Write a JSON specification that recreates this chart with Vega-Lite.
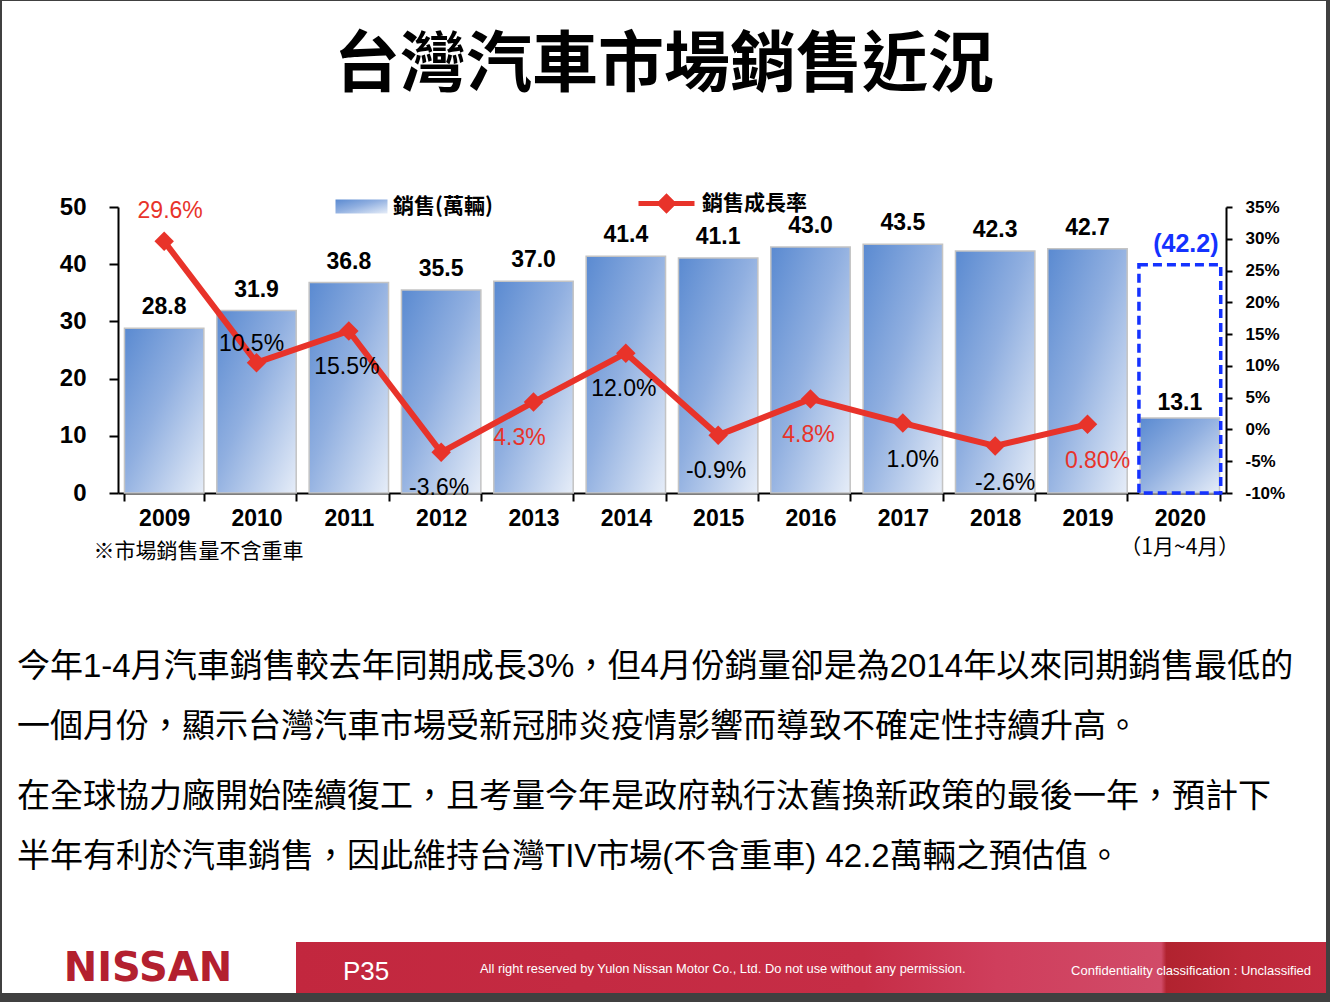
{
  "$schema": "https://vega.github.io/schema/vega-lite/v6.json",
  "width": 1324,
  "height": 992,
  "autosize": {"type": "none"},
  "padding": {"left": 2, "top": 1, "right": 4, "bottom": 9},
  "background": "#404040",
  "title": {
    "text": "台灣汽車市場銷售近況",
    "font": "Noto Sans CJK TC",
    "fontSize": 66,
    "fontWeight": "bold",
    "color": "black",
    "anchor": "middle",
    "frame": "group",
    "baseline": "middle",
    "offset": -131
  },
  "config": {
    "view": {"fill": "white", "stroke": null},
    "font": "Liberation Sans",
    "axis": {"grid": false, "domainColor": "black", "tickColor": "black", "labelColor": "black", "domainWidth": 2, "tickWidth": 2}
  },
  "datasets": {
    "sales": [
      {"year": "2009", "sales": 28.8, "growth": 29.6, "growthText": "29.6%"},
      {"year": "2010", "sales": 31.9, "growth": 10.5, "growthText": "10.5%"},
      {"year": "2011", "sales": 36.8, "growth": 15.5, "growthText": "15.5%"},
      {"year": "2012", "sales": 35.5, "growth": -3.6, "growthText": "-3.6%"},
      {"year": "2013", "sales": 37.0, "growth": 4.3, "growthText": "4.3%"},
      {"year": "2014", "sales": 41.4, "growth": 12.0, "growthText": "12.0%"},
      {"year": "2015", "sales": 41.1, "growth": -0.9, "growthText": "-0.9%"},
      {"year": "2016", "sales": 43.0, "growth": 4.8, "growthText": "4.8%"},
      {"year": "2017", "sales": 43.5, "growth": 1.0, "growthText": "1.0%"},
      {"year": "2018", "sales": 42.3, "growth": -2.6, "growthText": "-2.6%"},
      {"year": "2019", "sales": 42.7, "growth": 0.8, "growthText": "0.80%"},
      {"year": "2020", "sales": 13.1, "growth": null, "growthText": null, "outline": 39.9, "forecastText": "(42.2)", "period": "（1月~4月）"}
    ],
    "notes": [
      {"para": 1, "line": 1, "text": "今年1-4月汽車銷售較去年同期成長3%，但4月份銷量卻是為2014年以來同期銷售最低的"},
      {"para": 1, "line": 2, "text": "一個月份，顯示台灣汽車市場受新冠肺炎疫情影響而導致不確定性持續升高。"},
      {"para": 2, "line": 1, "text": "在全球協力廠開始陸續復工，且考量今年是政府執行汰舊換新政策的最後一年，預計下"},
      {"para": 2, "line": 2, "text": "半年有利於汽車銷售，因此維持台灣TIV市場(不含重車) 42.2萬輛之預估值。"}
    ],
    "footer": [
      {"item": "logo", "text": "NISSAN"},
      {"item": "page", "text": "P35"},
      {"item": "rights", "text": "All right reserved by Yulon Nissan Motor Co., Ltd. Do not use without any permission."},
      {"item": "class", "text": "Confidentiality classification :  Unclassified"}
    ]
  },
  "layer": [
    {
      "data": {"name": "sales"},
      "layer": [
        {
          "layer": [
            {
              "mark": {"type": "bar", "stroke": "#c4c4c4", "strokeWidth": 1.5,
                "fill": {"gradient": "linear", "x1": 0, "y1": 0, "x2": 1, "y2": 1, "stops": [{"offset": 0, "color": "#5a8ad1"}, {"offset": 0.45, "color": "#90afe0"}, {"offset": 1, "color": "#e6edf8"}]}},
              "encoding": {
                "x": {
                  "field": "year", "type": "nominal",
                  "scale": {"range": [116, 1224], "paddingInner": 0.14, "paddingOuter": 0.07},
                  "axis": {
                    "orient": "bottom", "offset": -500, "tickBand": "extent", "tickSize": 8,
                    "labelPadding": 6, "labelFontSize": 23, "labelFontWeight": "bold", "labelAngle": 0,
                    "labelBaseline": "top",
                    "title": "※市場銷售量不含重車", "titleFont": "Noto Sans CJK TC", "titleFontSize": 21,
                    "titleFontWeight": "normal", "titleColor": "black", "titleAlign": "left", "titleAnchor": "start",
                    "titleX": 91, "titleY": 58, "titleBaseline": "middle"
                  }
                },
                "y": {
                  "field": "sales", "type": "quantitative",
                  "scale": {"domain": [0, 50], "range": [492, 206]},
                  "axis": {
                    "orient": "left", "offset": -116, "values": [0, 10, 20, 30, 40, 50], "tickSize": 9,
                    "labelPadding": 23, "labelFontSize": 24, "labelFontWeight": "bold", "title": null
                  }
                },
                "opacity": {
                  "datum": "銷售(萬輛)", "type": "ordinal",
                  "scale": {"range": [1]},
                  "legend": {
                    "orient": "none", "legendX": 333, "legendY": 179, "title": null, "padding": 0,
                    "symbolType": "M-1,-0.27H1V0.27H-1Z", "symbolSize": 2704,
                    "symbolStrokeColor": "#b5b5b5", "symbolStrokeWidth": 1,
                    "labelFont": "Noto Sans CJK TC", "labelFontSize": 21, "labelFontWeight": "bold",
                    "labelColor": "black", "labelOffset": 5,
                    "encode": {"symbols": {"update": {"fill": {"value": {"gradient": "linear", "x1": 0, "y1": 0, "x2": 1, "y2": 1, "stops": [{"offset": 0, "color": "#5a8ad1"}, {"offset": 0.45, "color": "#90afe0"}, {"offset": 1, "color": "#e6edf8"}]}}, "opacity": {"value": 1}}}}
                  }
                }
              }
            },
            {
              "transform": [{"filter": "datum.year != '2020'"}],
              "mark": {"type": "text", "baseline": "middle", "dy": -21, "fontSize": 23, "fontWeight": "bold", "color": "black"},
              "encoding": {
                "x": {"field": "year", "type": "nominal"},
                "y": {"field": "sales", "type": "quantitative", "title": null},
                "text": {"field": "sales", "type": "quantitative", "format": ".1f"}
              }
            },
            {
              "transform": [{"filter": "datum.year == '2020'"}],
              "mark": {"type": "text", "baseline": "middle", "dy": -15, "fontSize": 23, "fontWeight": "bold", "color": "black"},
              "encoding": {
                "x": {"field": "year", "type": "nominal"},
                "y": {"field": "sales", "type": "quantitative", "title": null},
                "text": {"field": "sales", "type": "quantitative", "format": ".1f"}
              }
            },
            {
              "transform": [{"filter": "isValid(datum.outline)"}],
              "mark": {"type": "bar", "filled": false, "color": "#1432ff", "stroke": "#1432ff", "strokeWidth": 3.5, "strokeDash": [9, 5], "width": {"band": 1.03}},
              "encoding": {
                "x": {"field": "year", "type": "nominal"},
                "y": {"field": "outline", "type": "quantitative", "title": null}
              }
            },
            {
              "transform": [{"filter": "isValid(datum.outline)"}],
              "mark": {"type": "text", "baseline": "middle", "dy": -21, "dx": 6, "fontSize": 25, "fontWeight": "bold", "color": "#1432ff"},
              "encoding": {
                "x": {"field": "year", "type": "nominal"},
                "y": {"field": "outline", "type": "quantitative", "title": null},
                "text": {"field": "forecastText"}
              }
            },
            {
              "transform": [{"filter": "isValid(datum.period)"}],
              "mark": {"type": "text", "baseline": "middle", "dy": 55, "font": "Noto Sans CJK TC", "fontSize": 21, "color": "black"},
              "encoding": {
                "x": {"field": "year", "type": "nominal"},
                "y": {"datum": 0, "type": "quantitative"},
                "text": {"field": "period"}
              }
            }
          ]
        },
        {
          "transform": [{"filter": "isValid(datum.growth)"}],
          "layer": [
            {
              "mark": {"type": "line", "strokeWidth": 6},
              "encoding": {
                "x": {"field": "year", "type": "nominal"},
                "y": {
                  "field": "growth", "type": "quantitative",
                  "scale": {"domain": [-10, 35], "range": [492, 206]},
                  "axis": {
                    "orient": "right", "offset": -100, "values": [-10, -5, 0, 5, 10, 15, 20, 25, 30, 35],
                    "labelExpr": "datum.value + '%'", "tickSize": 6, "labelPadding": 13,
                    "labelFontSize": 17, "labelFontWeight": "bold", "title": null
                  }
                },
                "stroke": {
                  "datum": "銷售成長率", "type": "nominal",
                  "scale": {"range": ["#e8332a"]},
                  "legend": {
                    "orient": "none", "legendX": 634, "legendY": 172, "title": null, "padding": 0,
                    "symbolType": "M-1,0H1M-0.24,0L0,-0.24L0.24,0L0,0.24Z", "symbolSize": 3136,
                    "symbolStrokeWidth": 5, "symbolFillColor": "#e8332a",
                    "labelFont": "Noto Sans CJK TC", "labelFontSize": 21, "labelFontWeight": "bold",
                    "labelColor": "black", "labelOffset": 5
                  }
                }
              }
            },
            {
              "mark": {"type": "point", "shape": "diamond", "filled": true, "size": 380, "color": "#e8332a", "opacity": 1},
              "encoding": {
                "x": {"field": "year", "type": "nominal"},
                "y": {"field": "growth", "type": "quantitative", "title": null}
              }
            },
            {
              "transform": [{"filter": "datum.year == '2009'"}],
              "mark": {"type": "text", "baseline": "middle", "dx": 6, "dy": -30, "fontSize": 23, "color": "#e8332a"},
              "encoding": {
                "x": {"field": "year", "type": "nominal"},
                "y": {"field": "growth", "type": "quantitative", "title": null},
                "text": {"field": "growthText"}
              }
            },
            {
              "transform": [{"filter": "datum.year == '2010'"}],
              "mark": {"type": "text", "baseline": "middle", "dx": -5, "dy": -19, "fontSize": 23, "color": "black"},
              "encoding": {
                "x": {"field": "year", "type": "nominal"},
                "y": {"field": "growth", "type": "quantitative", "title": null},
                "text": {"field": "growthText"}
              }
            },
            {
              "transform": [{"filter": "indexof(['2011','2012','2014','2015','2016'], datum.year) >= 0"}],
              "mark": {"type": "text", "baseline": "middle", "dx": -2, "dy": 36, "fontSize": 23},
              "encoding": {
                "x": {"field": "year", "type": "nominal"},
                "y": {"field": "growth", "type": "quantitative", "title": null},
                "text": {"field": "growthText"},
                "color": {"condition": {"test": "datum.year == '2016'", "value": "#e8332a"}, "value": "black"}
              }
            },
            {
              "transform": [{"filter": "datum.year == '2013'"}],
              "mark": {"type": "text", "baseline": "middle", "dx": -14, "dy": 36, "fontSize": 23, "color": "#e8332a"},
              "encoding": {
                "x": {"field": "year", "type": "nominal"},
                "y": {"field": "growth", "type": "quantitative", "title": null},
                "text": {"field": "growthText"}
              }
            },
            {
              "transform": [{"filter": "indexof(['2017','2018','2019'], datum.year) >= 0"}],
              "mark": {"type": "text", "baseline": "middle", "dx": 10, "dy": 37, "fontSize": 23},
              "encoding": {
                "x": {"field": "year", "type": "nominal"},
                "y": {"field": "growth", "type": "quantitative", "title": null},
                "text": {"field": "growthText"},
                "color": {"condition": {"test": "datum.year == '2019'", "value": "#e8332a"}, "value": "black"}
              }
            }
          ]
        }
      ],
      "resolve": {"scale": {"y": "independent"}}
    },
    {
      "data": {"name": "notes"},
      "mark": {"type": "text", "align": "left", "baseline": "middle", "font": "Liberation Sans, Noto Sans CJK TC", "fontSize": 33, "color": "black"},
      "encoding": {
        "x": {"datum": 15, "type": "quantitative", "scale": {"domain": [0, 1324], "range": [0, 1324], "nice": false, "zero": false}, "axis": null},
        "y": {"field": "para", "type": "ordinal", "scale": {"type": "point", "range": [666, 796], "padding": 0}, "axis": null},
        "yOffset": {"field": "line", "type": "ordinal", "scale": {"type": "point", "range": [0, 60], "padding": 0}},
        "text": {"field": "text"}
      }
    },
    {
      "data": {"name": "footer"},
      "layer": [
        {
          "data": {"values": [{"part": "band"}]},
          "mark": {"type": "rect", "fill": {"gradient": "linear", "x1": 0, "y1": 0, "x2": 1, "y2": 0, "stops": [{"offset": 0, "color": "#c2273e"}, {"offset": 0.55, "color": "#c62d46"}, {"offset": 0.68, "color": "#cf3e5c"}, {"offset": 0.84, "color": "#d14b68"}, {"offset": 0.845, "color": "#b1232f"}, {"offset": 0.92, "color": "#bd2839"}, {"offset": 1, "color": "#c32a40"}]}},
          "encoding": {
            "x": {"datum": 294, "type": "quantitative", "scale": {"domain": [0, 1324], "range": [0, 1324], "nice": false, "zero": false}, "axis": null},
            "x2": {"datum": 1324},
            "y": {"datum": 941, "type": "quantitative", "scale": {"domain": [0, 992], "range": [0, 992], "nice": false, "zero": false}, "axis": null},
            "y2": {"datum": 992}
          }
        },
        {
          "transform": [{"filter": "datum.item == 'logo'"}],
          "mark": {"type": "text", "align": "center", "baseline": "middle", "font": "DejaVu Sans", "fontWeight": "bold", "fontSize": 40, "color": "#b3202f"},
          "encoding": {"x": {"datum": 146, "type": "quantitative"}, "y": {"datum": 968, "type": "quantitative"}, "text": {"field": "text"}}
        },
        {
          "transform": [{"filter": "datum.item == 'page'"}],
          "mark": {"type": "text", "align": "left", "baseline": "middle", "fontSize": 26, "color": "white"},
          "encoding": {"x": {"datum": 341, "type": "quantitative"}, "y": {"datum": 971, "type": "quantitative"}, "text": {"field": "text"}}
        },
        {
          "transform": [{"filter": "datum.item == 'rights'"}],
          "mark": {"type": "text", "align": "left", "baseline": "middle", "fontSize": 12.9, "color": "white"},
          "encoding": {"x": {"datum": 478, "type": "quantitative"}, "y": {"datum": 968, "type": "quantitative"}, "text": {"field": "text"}}
        },
        {
          "transform": [{"filter": "datum.item == 'class'"}],
          "mark": {"type": "text", "align": "right", "baseline": "middle", "fontSize": 13, "color": "white"},
          "encoding": {"x": {"datum": 1309, "type": "quantitative"}, "y": {"datum": 970, "type": "quantitative"}, "text": {"field": "text"}}
        }
      ]
    }
  ],
  "resolve": {"scale": {"x": "independent", "y": "independent"}}
}
